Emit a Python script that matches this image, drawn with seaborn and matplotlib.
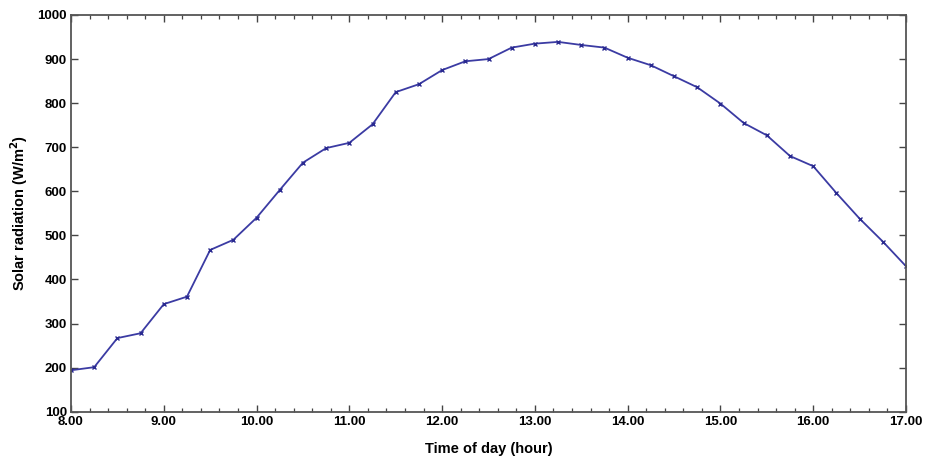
import matplotlib
matplotlib.use("Agg")
import matplotlib.pyplot as plt
from matplotlib.ticker import MultipleLocator, FormatStrFormatter
import seaborn as sns
import pandas as pd

hours = [8.0, 8.25, 8.5, 8.75, 9.0, 9.25, 9.5, 9.75, 10.0, 10.25, 10.5, 10.75,
         11.0, 11.25, 11.5, 11.75, 12.0, 12.25, 12.5, 12.75, 13.0, 13.25, 13.5, 13.75,
         14.0, 14.25, 14.5, 14.75, 15.0, 15.25, 15.5, 15.75, 16.0, 16.25, 16.5, 16.75, 17.0]
radiation = [194, 201, 267, 278, 344, 361, 467, 490, 540, 603, 665, 698,
             710, 752, 825, 843, 875, 895, 900, 926, 935, 939, 932, 926,
             903, 886, 861, 836, 799, 755, 727, 680, 657, 596, 538, 486, 430]

df = pd.DataFrame({"t": hours, "r": radiation})

sns.set_style("ticks")
plt.rcParams["font.family"] = ["Liberation Sans", "DejaVu Sans"]
plt.rcParams["font.weight"] = "bold"
plt.rcParams["text.color"] = "black"
plt.rcParams["axes.labelcolor"] = "black"
plt.rcParams["xtick.labelcolor"] = "black"
plt.rcParams["ytick.labelcolor"] = "black"

fig = plt.figure(figsize=(9.26, 4.58), dpi=100)
ax = fig.add_axes([71/926, 1 - 411.7/458, (906 - 71)/926, (411.7 - 15)/458])

sns.lineplot(data=df, x="t", y="r", ax=ax, color="#3b3ba3", linewidth=1.3,
             marker="x", markersize=3, markeredgewidth=1, markeredgecolor="#2a2a90")

ax.set_xlim(8, 17)
ax.set_ylim(100, 1000)
ax.xaxis.set_major_locator(MultipleLocator(1))
ax.xaxis.set_minor_locator(MultipleLocator(0.2))
ax.yaxis.set_major_locator(MultipleLocator(100))
ax.xaxis.set_major_formatter(FormatStrFormatter("%.2f"))
ax.tick_params(which="both", direction="in", top=True, right=True, labelsize=9.5,
               color="#444444", labelcolor="black", pad=3)
ax.tick_params(which="major", length=5, width=1)
ax.tick_params(which="minor", length=3, width=0.9)
for lab in ax.get_xticklabels() + ax.get_yticklabels():
    lab.set_fontweight("bold")
for s in ax.spines.values():
    s.set_color("#555555")
    s.set_linewidth(1.3)
    s.set_visible(True)

ax.set_xlabel("Time of day (hour)", fontsize=10.5, fontweight="bold", labelpad=10, color="black")
ax.set_ylabel("Solar radiation (W/m$^{\\mathbf{2}}$)", fontsize=10.5, fontweight="bold",
              labelpad=5, color="black")

fig.savefig("out.png", dpi=100)
